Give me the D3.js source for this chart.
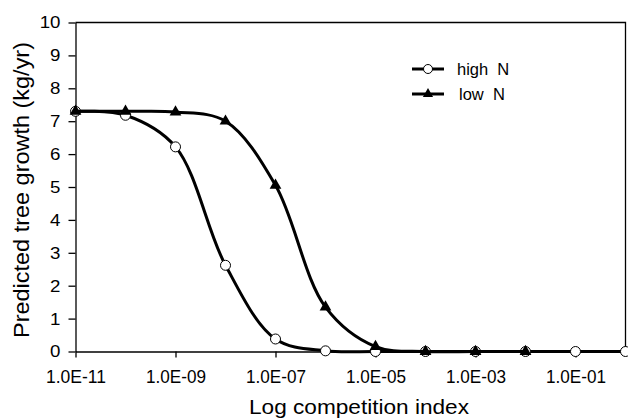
<!DOCTYPE html>
<html>
<head>
<meta charset="utf-8">
<script src="https://cdn.jsdelivr.net/npm/d3@7"></script>
<style>
  html, body { margin: 0; padding: 0; background: #fff; }
  text { font-family: "Liberation Sans", Arial, sans-serif; fill: #000; }
</style>
</head>
<body>
<svg id="chart" width="628" height="419"></svg>
<script>
// ---- data ----
const competitionIndex = [1e-11, 1e-10, 1e-9, 1e-8, 1e-7, 1e-6, 1e-5, 1e-4, 1e-3, 1e-2, 1e-1, 1e0];
const highN = [7.30, 7.18, 6.22, 2.62, 0.38, 0.02, 0.0, 0.0, 0.0, 0.0, 0.0, 0.0];
const lowN  = [7.30, 7.30, 7.28, 7.00, 5.05, 1.35, 0.15, 0.0, 0.0, 0.0];
const xTickValues = [1e-11, 1e-9, 1e-7, 1e-5, 1e-3, 1e-1];
const xTickLabels = ["1.0E-11", "1.0E-09", "1.0E-07", "1.0E-05", "1.0E-03", "1.0E-01"];
const yTickValues = [0, 1, 2, 3, 4, 5, 6, 7, 8, 9, 10];
const seriesNames = ["high N", "low N"];

(function () {
// ---- layout ----
const svg = d3.select("#chart");
const pl = 75.5, pr = 625.5, pt = 22.5, pb = 351.5;

const x = d3.scaleLog().domain([1e-11, 1e0]).range([pl, pr]);
const y = d3.scaleLinear().domain([0, 10]).range([pb, pt]);

// plot border (top & right)
svg.append("path")
  .attr("d", `M${pl},${pt}H${pr}V${pb}`)
  .attr("fill", "none").attr("stroke", "#000").attr("stroke-width", 1.3);

// stretch text horizontally a bit, like the reference rendering
function stretch(sel, k) {
  sel.each(function () {
    const w = this.getComputedTextLength();
    d3.select(this).attr("textLength", w * k).attr("lengthAdjust", "spacingAndGlyphs");
  });
}

// axes
const xAxis = d3.axisBottom(x)
  .tickValues(xTickValues)
  .tickFormat((d, i) => xTickLabels[i])
  .tickSizeInner(6).tickSizeOuter(0).tickPadding(13);
const gx = svg.append("g").attr("transform", `translate(0,${pb})`).call(xAxis);
gx.selectAll("text").attr("font-size", 17.5).attr("font-family", "Liberation Sans").attr("fill", "#000");
stretch(gx.selectAll("text"), 1.0);
gx.selectAll("text").attr("textLength", 60).attr("lengthAdjust", "spacingAndGlyphs");

const yAxis = d3.axisLeft(y)
  .tickValues(yTickValues)
  .tickSizeInner(7).tickSizeOuter(0).tickPadding(8);
const gy = svg.append("g").attr("transform", `translate(${pl},0)`).call(yAxis);
gy.selectAll("text").attr("font-size", 17).attr("font-family", "Liberation Sans").attr("fill", "#000");
stretch(gy.selectAll("text"), 1.1);

[gx, gy].forEach(g => {
  g.select(".domain").attr("stroke", "#000").attr("stroke-width", 1.3);
  g.selectAll(".tick line").attr("stroke", "#000").attr("stroke-width", 1.3);
});

// axis titles
svg.append("text")
  .attr("x", 359).attr("y", 414)
  .attr("text-anchor", "middle")
  .attr("font-size", 20)
  .attr("textLength", 220).attr("lengthAdjust", "spacingAndGlyphs")
  .text("Log competition index");

svg.append("text")
  .attr("transform", `translate(29,190) rotate(-90)`)
  .attr("text-anchor", "middle")
  .attr("font-size", 21.5)
  .attr("textLength", 296).attr("lengthAdjust", "spacingAndGlyphs")
  .text("Predicted tree growth (kg/yr)");

// lines
const line = d3.line()
  .x(d => x(d[0])).y(d => y(d[1]))
  .curve(d3.curveCatmullRom.alpha(0.5));

const highData = highN.map((v, i) => [competitionIndex[i], v]);
const lowData = lowN.map((v, i) => [competitionIndex[i], v]);

const triangle = d3.symbol().type(d3.symbolTriangle).size(60);

svg.append("path").datum(highData).attr("d", line)
  .attr("fill", "none").attr("stroke", "#000").attr("stroke-width", 3);
svg.selectAll("circle.high").data(highData).join("circle")
  .attr("class", "high")
  .attr("cx", d => x(d[0])).attr("cy", d => y(d[1])).attr("r", 5)
  .attr("fill", "#fff").attr("stroke", "#000").attr("stroke-width", 1);

svg.append("path").datum(lowData).attr("d", line)
  .attr("fill", "none").attr("stroke", "#000").attr("stroke-width", 3);
svg.selectAll("path.low").data(lowData).join("path")
  .attr("class", "low")
  .attr("transform", d => `translate(${x(d[0])},${y(d[1])})`)
  .attr("d", triangle).attr("fill", "#000");

// legend
const legend = svg.append("g");
const legY = [69, 94];
seriesNames.forEach((name, i) => {
  legend.append("line")
    .attr("x1", 412).attr("x2", 444).attr("y1", legY[i]).attr("y2", legY[i])
    .attr("stroke", "#000").attr("stroke-width", 3);
  if (i === 0) {
    legend.append("circle").attr("cx", 428).attr("cy", legY[i]).attr("r", 4.5)
      .attr("fill", "#fff").attr("stroke", "#000").attr("stroke-width", 1);
  } else {
    legend.append("path").attr("transform", `translate(428,${legY[i]})`)
      .attr("d", d3.symbol().type(d3.symbolTriangle).size(45)).attr("fill", "#000");
  }
  legend.append("text")
    .attr("x", i === 0 ? 457 : 459).attr("y", legY[i] + 6)
    .attr("font-size", 16.5)
    .attr("xml:space", "preserve")
    .text(name.replace(" ", "  "));
});
})();
</script>
</body>
</html>
